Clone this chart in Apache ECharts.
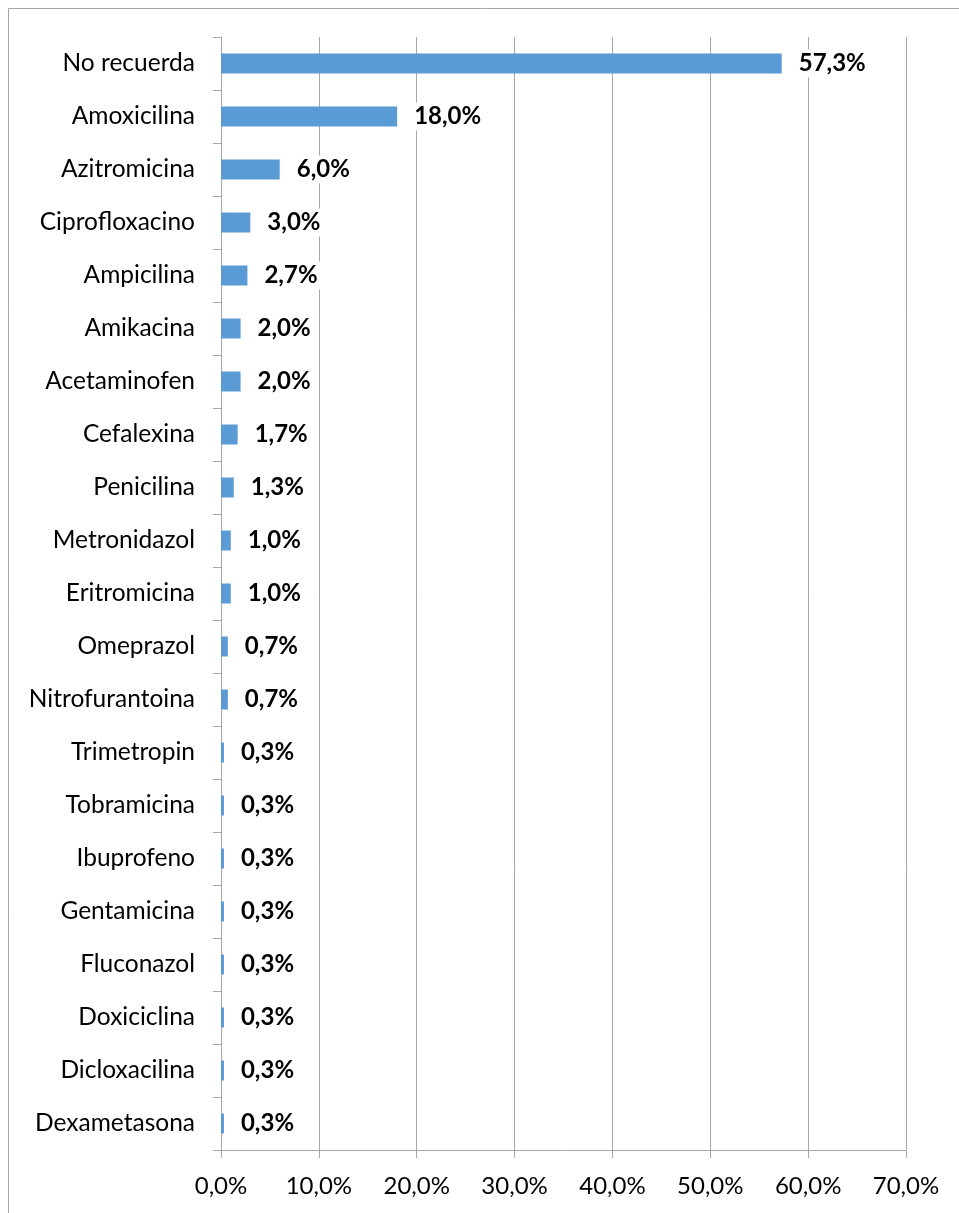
<!DOCTYPE html>
<html>
<head>
<meta charset="utf-8">
<script src="https://cdn.jsdelivr.net/npm/echarts@6/dist/echarts.min.js"></script>
<style>
html,body{margin:0;padding:0;background:#fff;}
#chart{width:959px;height:1213px;}
</style>
</head>
<body>
<div id="chart"></div>
<script>
const categories = ["No recuerda","Amoxicilina","Azitromicina","Ciprofloxacino","Ampicilina","Amikacina","Acetaminofen","Cefalexina","Penicilina","Metronidazol","Eritromicina","Omeprazol","Nitrofurantoina","Trimetropin","Tobramicina","Ibuprofeno","Gentamicina","Fluconazol","Doxiciclina","Dicloxacilina","Dexametasona"];
const values = [57.3,18.0,6.0,3.0,2.7,2.0,2.0,1.7,1.3,1.0,1.0,0.7,0.7,0.3,0.3,0.3,0.3,0.3,0.3,0.3,0.3];
const xTicks = {min:0, max:70, interval:10};

const fmt = v => v.toFixed(1).replace('.', ',') + '%';
const FONT = 'Lato, "Open Sans", sans-serif';
const GRAY = '#a6a6a6';

const chart = echarts.init(document.getElementById('chart'), null, {renderer:'canvas'});
chart.setOption({
  animation:false,
  backgroundColor:'#fff',
  graphic:[{type:'rect', shape:{x:8.5,y:8.5,width:960,height:1210}, style:{fill:'none', stroke:GRAY, lineWidth:1}, silent:true}],
  grid:{left:221, right:53, top:37, bottom:63, containLabel:false},
  xAxis:{
    type:'value', min:xTicks.min, max:xTicks.max, interval:xTicks.interval,
    axisLine:{show:true, lineStyle:{color:GRAY}},
    axisTick:{show:true, length:8, lineStyle:{color:GRAY}},
    splitLine:{show:true, lineStyle:{color:GRAY}},
    axisLabel:{formatter:fmt, color:'#000', fontFamily:FONT, fontSize:24, margin:24}
  },
  yAxis:{
    type:'category', data:categories, inverse:true,
    axisLine:{show:true, lineStyle:{color:GRAY}},
    axisTick:{show:true, length:8, lineStyle:{color:GRAY}},
    axisLabel:{color:'#000', fontFamily:FONT, fontSize:24.5, margin:26}
  },
  series:[{
    type:'bar', data:values, barWidth:20,
    itemStyle:{color:'#5B9BD5'},
    label:{show:true, position:'right', distance:12, formatter:p=>fmt(p.value),
      color:'#000', fontWeight:'bold', fontFamily:FONT, fontSize:24,
      backgroundColor:'#fff', padding:[2,5]}
  }]
});
</script>
</body>
</html>
